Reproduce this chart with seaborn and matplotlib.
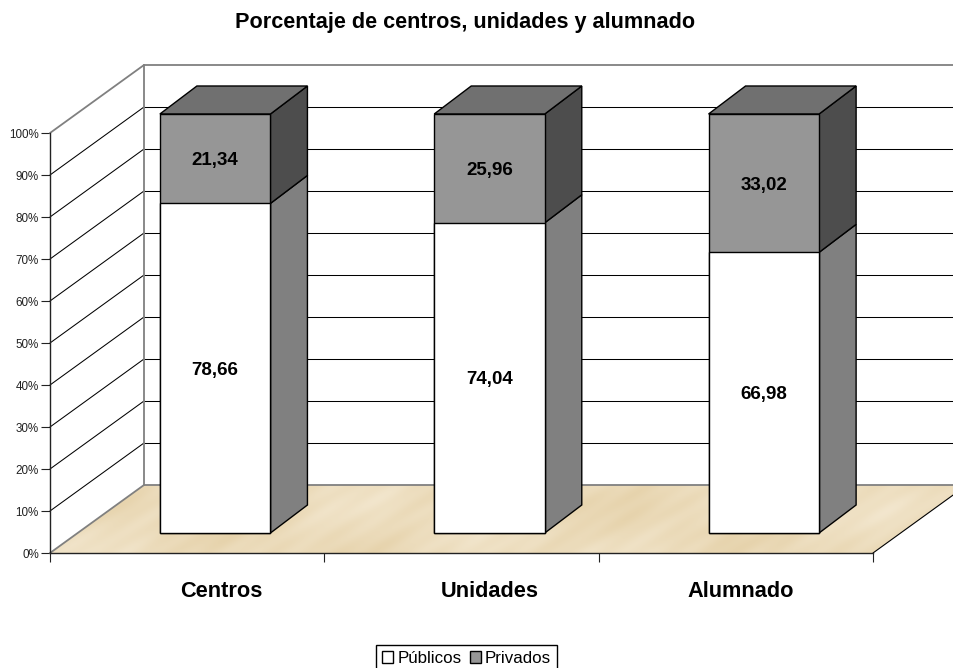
import numpy as np
import pandas as pd
import matplotlib
matplotlib.use("Agg")
import matplotlib.pyplot as plt
import seaborn as sns
from matplotlib.patches import Patch, Polygon

# Values
categorias = ["Centros", "Unidades", "Alumnado"]
publicos = [78.66, 74.04, 66.98]
privados = [21.34, 25.96, 33.02]
marcas_y = [0, 10, 20, 30, 40, 50, 60, 70, 80, 90, 100]

# Colors
blanco = "#FFFFFF"
gris_frente = "#969696"
gris_lado = "#808080"
gris_lado_osc = "#4D4D4D"
gris_techo = "#707070"
borde_pared = "#808080"

df = pd.DataFrame({"Categoria": categorias, "Publicos": publicos, "Privados": privados})
df["Total"] = df["Publicos"] + df["Privados"]

W, H = 954, 668
sns.set_style("white")
plt.rcParams["font.family"] = ["Liberation Sans", "DejaVu Sans"]
fig = plt.figure(figsize=(W / 100, H / 100), dpi=100)


def caja(x0, x1, y_top, y_bottom):
    return [x0 / W, 1 - y_bottom / H, (x1 - x0) / W, (y_bottom - y_top) / H]


# Front plane of the box: axis, ticks, walls and floor
ax = fig.add_axes(caja(50, 873, 133, 553), zorder=0)
ax.patch.set_visible(False)

# Depth of the box in data units of the front plane
fondo_x = 94 / (823 / 3)
fondo_y = 68 / 420 * 100

# Sand texture of the floor, made of a few soft diagonal waves
yy, xx = np.mgrid[0:68, 0:917]
olas = (np.sin(xx * 0.035 - yy * 0.06) + np.sin(xx * 0.013 + yy * 0.05 + 1.3)
        + 0.6 * np.sin(xx * 0.09 - yy * 0.13 + 0.6) * np.sin(xx * 0.021 + yy * 0.07)
        + 0.4 * np.sin(xx * 0.19 - yy * 0.31))
olas = olas / np.abs(olas).max()
arena = np.stack([0.925 + 0.025 * olas, 0.862 + 0.040 * olas, 0.735 + 0.070 * olas], axis=-1)
im = ax.imshow(arena, extent=(0, 3 + fondo_x, 0, fondo_y), aspect="auto", origin="lower", zorder=1)
im.set_clip_box(fig.bbox)
im.set_clip_path(Polygon([(0, 0), (3, 0), (3 + fondo_x, fondo_y), (fondo_x, fondo_y)],
                         transform=ax.transData))
ax.set_xlim(0, 3)
ax.set_ylim(0, 100)

for v in marcas_y[1:-1]:
    ax.plot([0, fondo_x], [v, v + fondo_y], color="black", lw=0.75, clip_on=False, zorder=2)
    ax.plot([fondo_x, 3 + fondo_x], [v + fondo_y, v + fondo_y], color="black", lw=0.75, clip_on=False, zorder=2)
# grey outline of the walls
ax.plot([0, fondo_x], [0, fondo_y], color=borde_pared, lw=1.3, clip_on=False, zorder=3)
ax.plot([0, fondo_x], [100, 100 + fondo_y], color=borde_pared, lw=1.3, clip_on=False, zorder=3)
ax.plot([fondo_x, fondo_x], [fondo_y, 100 + fondo_y], color=borde_pared, lw=1.3, clip_on=False, zorder=3)
ax.plot([fondo_x, 3 + fondo_x], [100 + fondo_y, 100 + fondo_y], color=borde_pared, lw=1.3, clip_on=False, zorder=3)
ax.plot([fondo_x, 3 + fondo_x], [fondo_y, fondo_y], color=borde_pared, lw=1.3, clip_on=False, zorder=3)
ax.plot([3, 3 + fondo_x], [0, fondo_y], color="black", lw=0.8, clip_on=False, zorder=3)

ax.set_yticks(marcas_y)
ax.set_yticklabels([f"{v}%" for v in marcas_y], fontsize=8.4, color="#222222")
ax.set_xticks([0, 1, 2, 3])
ax.set_xticklabels([])
ax.tick_params(axis="both", direction="out", length=6.5, width=0.8, color="#222222", pad=1.5,
               left=True, bottom=True)
sns.despine(ax=ax, top=True, right=True)
for lado in ["left", "bottom"]:
    ax.spines[lado].set_color("#222222")
    ax.spines[lado].set_linewidth(1.0)
    ax.spines[lado].set_zorder(5)

# Plane of the bars, shifted into the box
ax2 = fig.add_axes(caja(78, 901, 114, 533), zorder=1)
ax2.patch.set_visible(False)
sns.barplot(data=df, x="Categoria", y="Total", color=gris_frente, saturation=1, width=0.403,
            edgecolor="black", linewidth=1.0, ax=ax2, zorder=4)
n_total = len(ax2.patches)
sns.barplot(data=df, x="Categoria", y="Publicos", color=blanco, saturation=1, width=0.403,
            edgecolor="black", linewidth=1.0, ax=ax2, zorder=5)
ax2.set_xlim(-0.5, 2.5)
ax2.set_ylim(0, 100)
ax2.axis("off")
for barra in ax2.patches:
    barra.set_clip_on(False)

prof_x = 37 / (823 / 3)
prof_y = 28 / 419 * 100

for i, barra in enumerate(ax2.patches[:n_total]):
    x1 = barra.get_x() + barra.get_width()
    x0 = barra.get_x()
    p = publicos[i]
    caras = [
        ([(x1, 0), (x1 + prof_x, prof_y), (x1 + prof_x, p + prof_y), (x1, p)], gris_lado),
        ([(x1, p), (x1 + prof_x, p + prof_y), (x1 + prof_x, 100 + prof_y), (x1, 100)], gris_lado_osc),
        ([(x0, 100), (x0 + prof_x, 100 + prof_y), (x1 + prof_x, 100 + prof_y), (x1, 100)], gris_techo),
    ]
    for puntos, color in caras:
        ax2.add_patch(Polygon(puntos, facecolor=color, edgecolor="black", lw=1.0,
                              joinstyle="miter", clip_on=False, zorder=3))
    ax2.text(i, p / 2, f"{p:.2f}".replace(".", ","), ha="center", va="center_baseline",
             fontsize=13.5, fontweight="bold", color="black", zorder=6)
    ax2.text(i, p + privados[i] / 2, f"{privados[i]:.2f}".replace(".", ","), ha="center", va="center_baseline",
             fontsize=13.5, fontweight="bold", color="black", zorder=6)

# Category names, not evenly spaced in the original
x_nombres = [0.623, 1.602, 2.517]
for x, nombre in zip(x_nombres, categorias):
    ax.text(x, -9.1, nombre, ha="center", va="center", fontsize=15.7, fontweight="bold", color="black")

fig.text(465 / W, 1 - 28 / H, "Porcentaje de centros, unidades y alumnado",
         ha="center", va="baseline", fontsize=15.6, fontweight="bold", color="black")

handles = [Patch(facecolor=blanco, edgecolor="black", label="Públicos"),
           Patch(facecolor=gris_frente, edgecolor="black", label="Privados")]
fig.legend(handles=handles, loc="upper left", bbox_to_anchor=(376 / W, 1 - 645 / H), ncol=2,
           frameon=True, fancybox=False, edgecolor="black", framealpha=1, fontsize=12.2,
           labelcolor="black", borderaxespad=0, borderpad=0.35, handlelength=0.65, handleheight=0.65,
           handletextpad=0.25, columnspacing=0.5)

plt.savefig("out.png", dpi=100)
